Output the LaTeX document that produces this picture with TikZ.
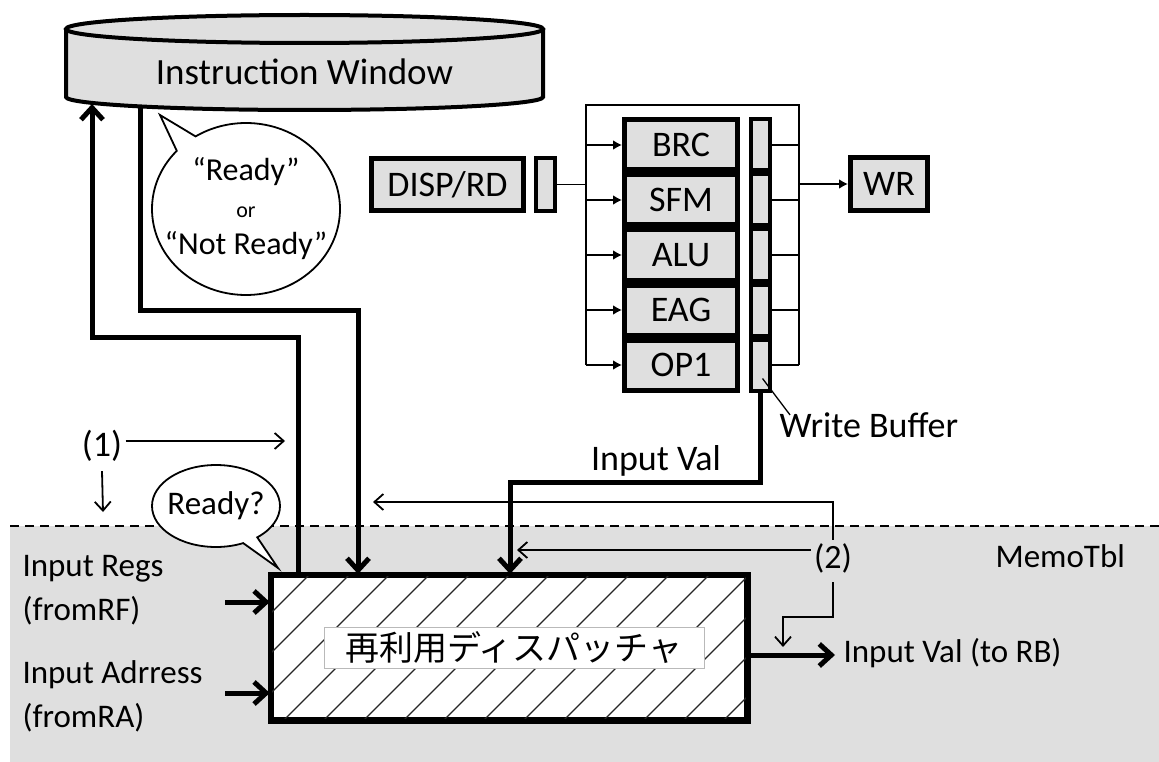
\documentclass[tikz,border=0pt]{standalone}
\usepackage{fontspec}
\setmainfont{Carlito}
\newfontfamily\jpfont{Noto Sans CJK JP}
\usepackage{tikz}
\usetikzlibrary{arrows.meta,positioning,calc,shapes.callouts}
\definecolor{memogray}{gray}{0.875}

\begin{document}
\begin{tikzpicture}[x=1pt,y=-1pt,
  big/.style={font=\fontsize{36}{40}\selectfont},
  mid/.style={font=\fontsize{33}{44}\selectfont},
  fu/.style={draw,line width=5pt,fill=memogray,inner sep=0pt,minimum width=113pt,minimum height=50pt,big},
  wbcell/.style={draw,line width=4pt,fill=memogray,inner sep=0pt,minimum width=19pt,minimum height=51pt},
  wire/.style={line width=1.8pt},
  fatwire/.style={line width=5pt,-{Straight Barb[length=12pt,width=22pt]}},
  thinarrow/.style={line width=1.8pt,-{Straight Barb[length=9pt,width=16pt]}},
  busarrow/.style={line width=1.8pt,-{Latex[length=9pt,width=10pt]}},
  bubble/.style={ellipse callout,draw,fill=white,line width=1.8pt,inner sep=0pt}]
  \useasboundingbox (0,0) rectangle (1159,762);

  \fill[memogray] (10,526) rectangle (1159,762); % MemoTbl の領域
  \draw[line width=1.5pt,dash pattern=on 9pt off 6pt] (10,526) -- (1159,526); % 境界の点線

  % 命令ウィンドウ（円筒）
  \filldraw[fill=memogray,line width=4pt] (66,29) -- (66,97)
    arc[start angle=180,end angle=0,x radius=238.5,y radius=13] -- (543,29);
  \filldraw[fill=memogray,line width=4pt] (304.5,29) ellipse[x radius=238.5,y radius=14];
  \node[big,font=\fontsize{37}{40}\selectfont] (iw) at (304.5,72) {Instruction Window};

  % パイプライン
  \coordinate (lbus) at (586,105);
  \coordinate (rbus) at (799,105);
  \foreach \name/\lbl [count=\i] in {brc/BRC,sfm/SFM,alu/ALU,eag/EAG,op1/OP1}{
    \node[fu] (\name) at (681,90+55*\i) {\lbl};
    \node[wbcell] (wb\i) at (760.5,90+55*\i) {};
    \draw[busarrow] (\name.west -| lbus) -- (\name.west);
    \draw[wire] (wb\i.east) -- (wb\i.east -| rbus);
  }
  \draw[wire] (op1.west -| lbus) -- (lbus) -- (rbus) -- (op1.east -| rbus);
  \node[fu,minimum width=152pt,minimum height=52pt] (rd) at (447.5,184.5) {DISP/RD};
  \node[wbcell,minimum height=53pt] (rdl) at (545.5,184.5) {};
  \draw[wire] (rdl.east) -- (rdl.east -| lbus);
  \node[fu,minimum width=77pt,minimum height=53pt] (wr) at (889,184) {WR};
  \draw[busarrow] (wr.west -| rbus) -- (wr.west);

  \node[big,anchor=west] (wblbl) at (776,425) {Write Buffer};
  \draw[line width=1.3pt] ($(wb5.south)+(2,-14)$) -- ($(wblbl.north west)+(14,6)$); % 引き出し線

  % 再利用ディスパッチャ
  \node[draw,line width=4.5pt,fill=white,minimum width=474pt,minimum height=143pt] (reuse) at (509,647.5) {};
  \begin{scope}
    \clip (reuse.south west) rectangle (reuse.north east);
    \foreach \k in {-6,...,9}
      \draw[line width=1.3pt,black!85] (363+40*\k,721) -- ++(147,-147); % 斜線
  \end{scope}
  \draw[line width=4.5pt] (reuse.south west) rectangle (reuse.north east);
  \node[fill=white,draw=gray!55,line width=1pt,inner sep=0pt,minimum width=380pt,minimum height=41pt,
    font=\jpfont\fontsize{34}{36}\selectfont] (reuselbl) at (514,647.5) {再利用ディスパッチャ};

  % 太い信号線
  \coordinate (iwA) at (92,104);
  \coordinate (iwB) at (140,106);
  \coordinate (rqbend) at (298,337);
  \coordinate (ansbend) at (140,310);
  \coordinate (ansin) at (358,574);
  \coordinate (ivbend) at (510,482);
  \coordinate (ivin) at (510,574);
  \draw[fatwire] (rqbend |- reuse.north) -- (rqbend) -| (iwA);
  \draw[fatwire] (iwB) -- (ansbend) -| (ansin);
  \draw[fatwire] (wb5.south) |- (ivbend) -- (ivin);
  \node[big] (ivlbl) at (656,461) {Input Val};

  % 入出力
  \coordinate (rfin) at (225,602);
  \coordinate (rain) at (225,693);
  \coordinate (rbout) at (835,655);
  \draw[fatwire] (rfin) -- (rfin -| reuse.west);
  \draw[fatwire] (rain) -- (rain -| reuse.west);
  \draw[fatwire] (rbout -| reuse.east) -- (rbout);
  \node[mid,anchor=west,align=left] (inregs) at (19,590) {Input Regs\\(fromRF)};
  \node[mid,anchor=west,align=left] (inaddr) at (19,696.5) {Input Adrress\\(fromRA)};
  \node[mid,anchor=west] (rblbl) at (840,653) {Input Val (to RB)};
  \node[mid,anchor=west] (memo) at (992,556) {MemoTbl};

  % 吹き出し
  \node[bubble,minimum width=188pt,minimum height=172pt,callout absolute pointer={(160,115)}] (rdy) at (246,209) {};
  \node[align=center,font=\fontsize{32}{37}\selectfont] (rdytxt) at (rdy.center)
    {“Ready”\\{\fontsize{22}{24}\selectfont or}\\“Not Ready”};
  \node[bubble,minimum width=128pt,minimum height=82pt,callout absolute pointer={(278,568)}] (rdyq) at (216,506) {};
  \node[mid] (rdyqtxt) at (rdyq.center) {Ready?};

  % (1) と (2)
  \node[big] (m1) at (102,446) {(1)};
  \coordinate (m1tip) at (285,441);
  \coordinate (m1dn) at (103,512);
  \draw[thinarrow] (m1.east |- m1tip) -- (m1tip);
  \draw[thinarrow] (m1.south) ++(0,6) -- (m1dn);
  \node[big,font=\fontsize{34}{40}\selectfont] (m2) at (833,558) {(2)};
  \coordinate (m2up) at (373,502);
  \coordinate (m2lt) at (517,550);
  \coordinate (m2bend) at (783,617);
  \coordinate (m2dn) at (783,647);
  \draw[thinarrow] (m2.north) |- (m2up);
  \draw[thinarrow] (m2.west |- m2lt) -- (m2lt);
  \draw[thinarrow] (m2.south) ++(0,6) |- (m2bend) -- (m2dn);
\end{tikzpicture}
\end{document}
